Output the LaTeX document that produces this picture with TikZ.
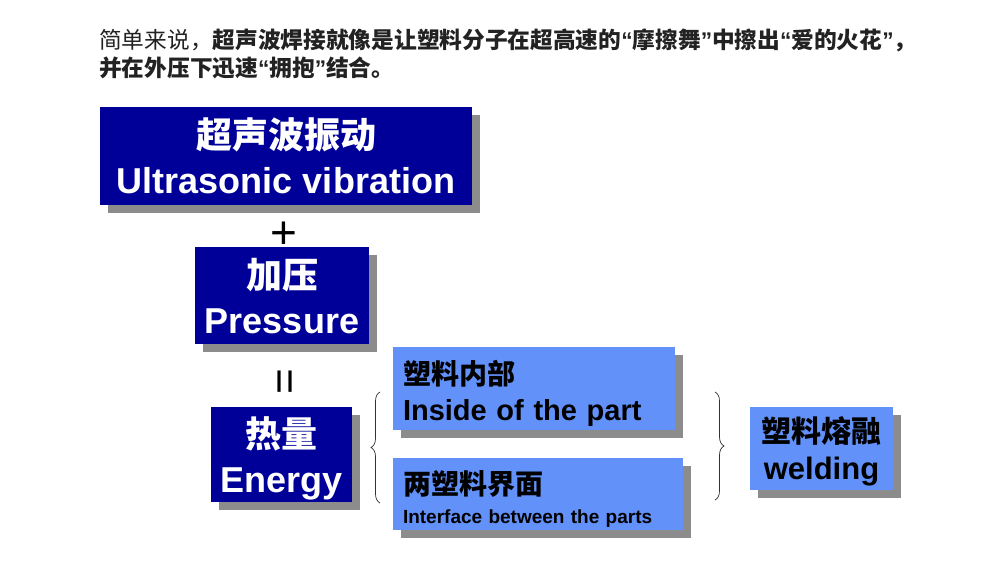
\documentclass[tikz,border=0pt]{standalone}
\usepackage{fontspec}
\setmainfont{Liberation Sans}
\newfontfamily\cjk{Noto Sans CJK SC}
\usetikzlibrary{shadows,decorations.pathreplacing}
\definecolor{navy}{RGB}{0,0,153}
\definecolor{skyblue}{RGB}{98,145,250}
\definecolor{shade}{RGB}{140,140,140}
\definecolor{titlegray}{RGB}{34,34,34}
\newcommand{\lqm}{{\rmfamily “}}
\newcommand{\rqm}{{\rmfamily ”}}

\begin{document}
\begin{tikzpicture}[x=1pt,y=-1pt,
        blockbox/.style={inner sep=0pt,
            drop shadow={shadow xshift=8pt,shadow yshift=-8pt,fill=shade,opacity=1}},
        navybox/.style={blockbox,text depth=0pt,fill=navy,text=white,align=center,
            font=\bfseries\fontsize{36}{45}\selectfont},
        bluebox/.style={blockbox,fill=skyblue,text=black,font=\bfseries},
        sign/.style={inner sep=0pt},
        brace/.style={decorate,decoration={brace,amplitude=9pt},draw=black!80,line width=0.7pt}]
    \useasboundingbox (0,0) rectangle (1000,575);
    \node[anchor=north west,align=left,inner sep=0pt,text=titlegray,
        font=\cjk\fontsize{22.7}{28}\selectfont] (title) at (99,29)
        {简单来说，{\bfseries 超声波焊接就像是让塑料分子在超高速的\lqm 摩擦舞\rqm 中擦出\lqm 爱的火花\rqm ，}\\
         {\bfseries 并在外压下迅速\lqm 拥抱\rqm 结合。}};
    \node[navybox,minimum width=372pt,minimum height=98pt] (vib) at (286,156)
        {{\cjk 超声波振动}\\Ultrasonic vibration};
    \node[sign,font=\fontsize{46}{46}\selectfont] (plus) at (284,235) {+};
    \node[navybox,minimum width=174pt,minimum height=97pt] (pres) at (282,295.5)
        {{\cjk 加压}\\Pressure};
    \node[sign,rotate=90,font=\fontsize{44}{44}\selectfont] (eq) at (289,382) {=};
    \node[navybox,minimum width=141pt,minimum height=95pt] (heat) at (281.5,454.5)
        {{\cjk 热量}\\Energy};
    \node[bluebox,align=left,text width=262pt,inner xsep=10pt,minimum height=83pt,text depth=32pt,
        font=\bfseries\fontsize{29}{36}\selectfont] (inside) at (534,388.5)
        {{\cjk\fontsize{28}{36}\selectfont 塑料内部}\\Inside of the part};
    \node[bluebox,align=left,text width=270pt,inner xsep=10pt,minimum height=72pt,text depth=22pt,
        font=\bfseries\fontsize{19}{29}\selectfont] (iface) at (538,494)
        {{\cjk\fontsize{28}{29}\selectfont 两塑料界面}\\Interface between the parts};
    \node[bluebox,align=center,minimum width=143pt,minimum height=83pt,text depth=0pt,
        font=\bfseries\fontsize{31}{37}\selectfont] (weld) at (821.5,448.5)
        {{\cjk\fontsize{30}{37}\selectfont 塑料熔融}\\welding};
    \coordinate (lbtop) at (380,392);
    \coordinate (lbbot) at (380,503);
    \coordinate (rbtop) at (715,392);
    \coordinate (rbbot) at (715,500);
    \draw[brace] (lbbot) -- (lbtop);
    \draw[brace] (rbtop) -- (rbbot);
\end{tikzpicture}
\end{document}
